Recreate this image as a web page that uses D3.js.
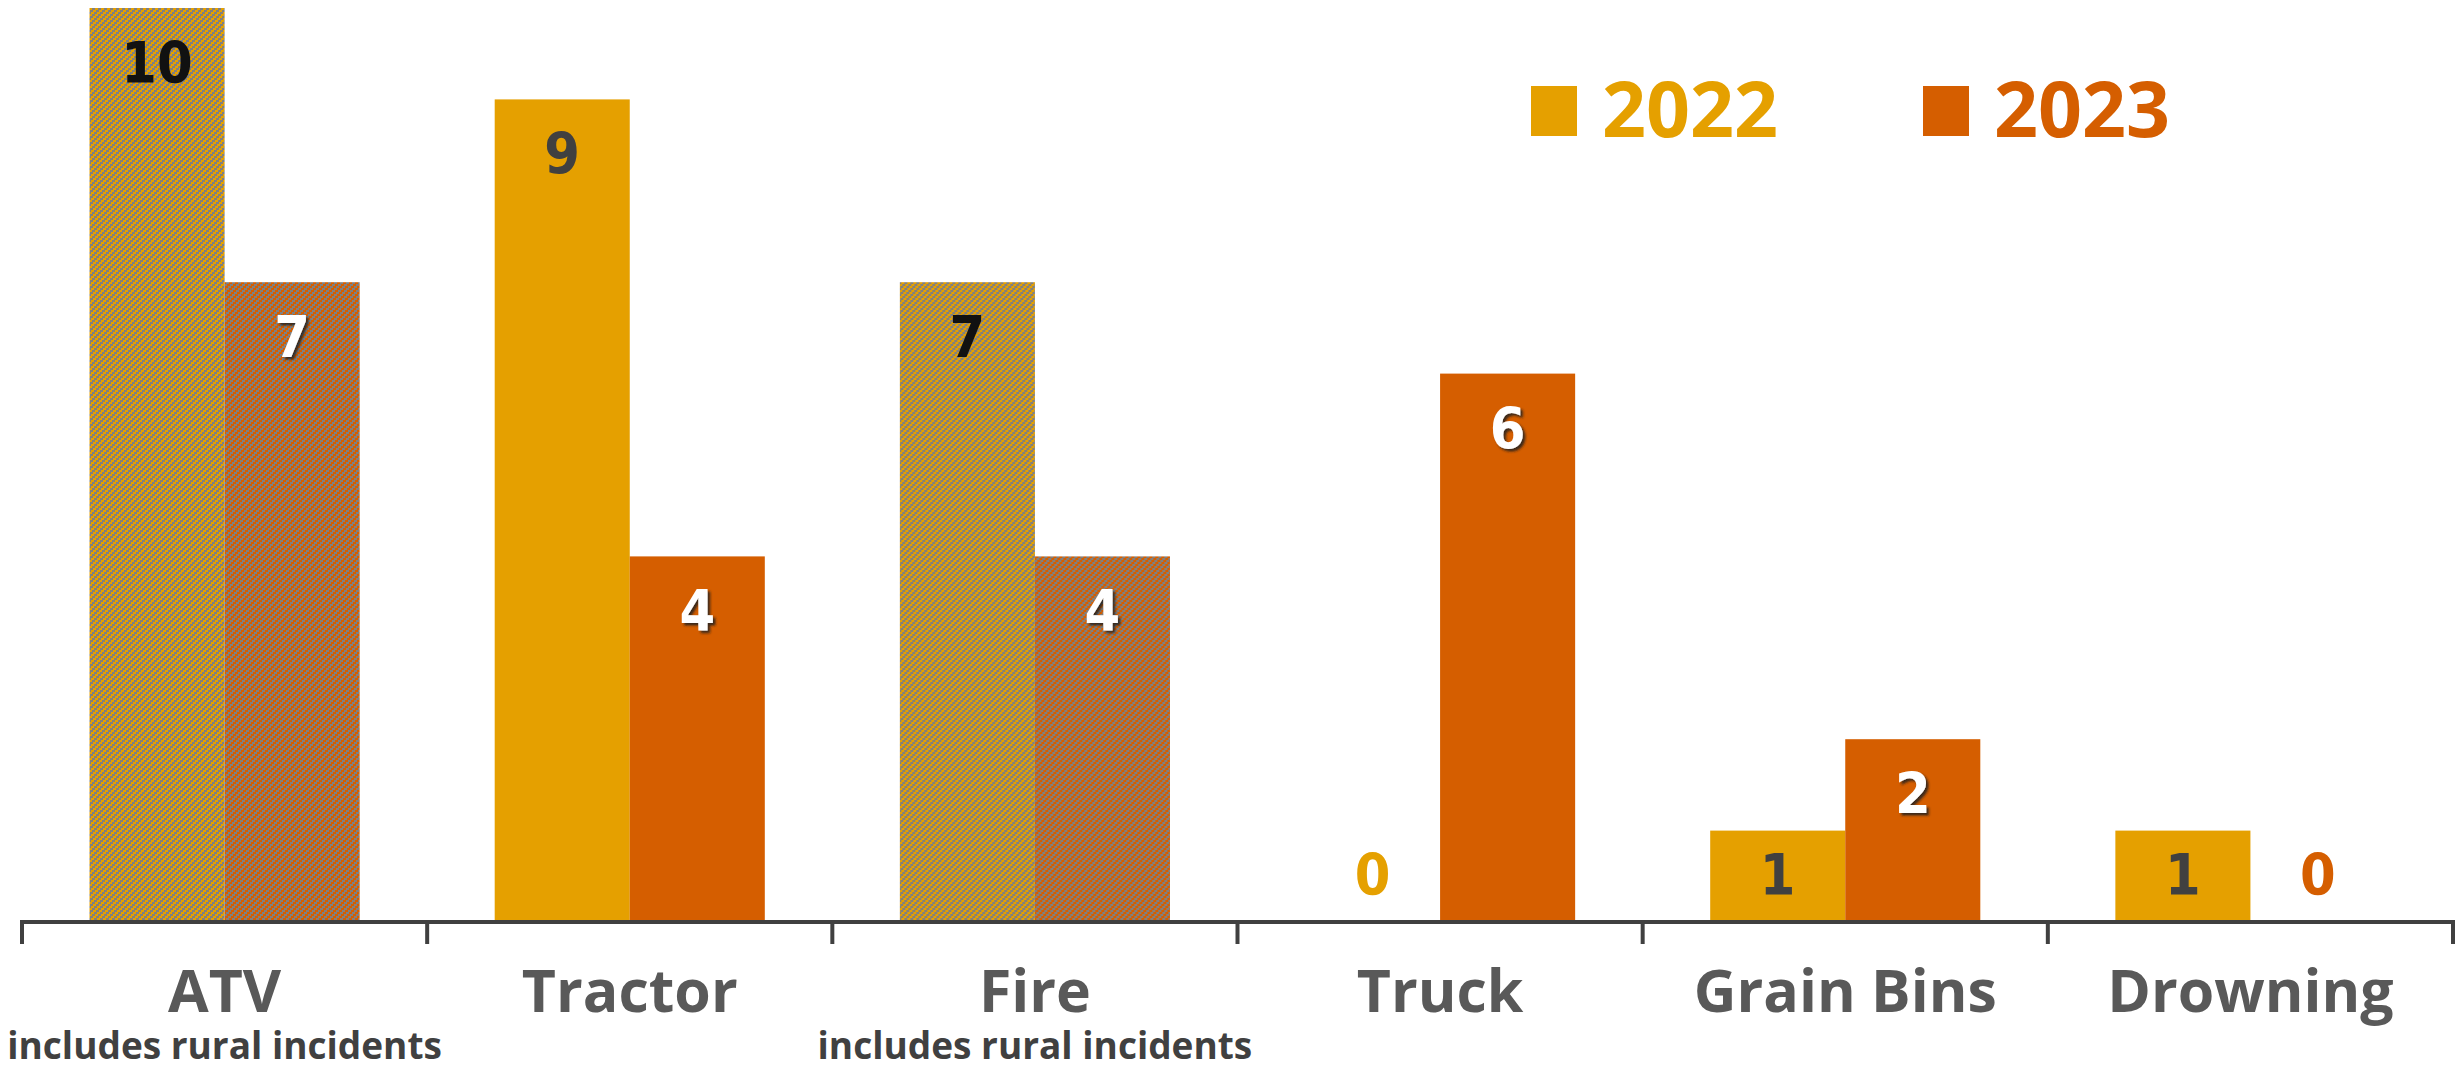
<!DOCTYPE html>
<html>
<head>
<meta charset="utf-8">
<script src="https://cdn.jsdelivr.net/npm/d3@7"></script>
<style>
  body { margin: 0; background: #fff; }
  svg { display: block; }
</style>
</head>
<body>
<svg width="2464" height="1070"></svg>
<script>
// data
var categories = ["ATV", "Tractor", "Fire", "Truck", "Grain Bins", "Drowning"];
var subtitles = ["includes rural incidents", "", "includes rural incidents", "", "", ""];
var years = ["2022", "2023"];
var values2022 = [10, 9, 7, 0, 1, 1];
var values2023 = [7, 4, 4, 6, 2, 0];
var hatched = [true, false, true, false, false, false];

var colors = { "2022": "#E5A000", "2023": "#D55E00" };

var svg = d3.select("svg");
var defs = svg.append("defs");

// stair-step diagonal hatching, one per year
years.forEach(function(yr) {
  var p = defs.append("pattern")
    .attr("id", "hatch" + yr)
    .attr("patternUnits", "userSpaceOnUse")
    .attr("width", 6)
    .attr("height", 6)
    .attr("shape-rendering", "crispEdges");
  p.append("rect").attr("width", 6).attr("height", 6).attr("fill", colors[yr]);
  [0, 1, 2].forEach(function(b) {
    var s = ((0 - 2 * b) % 6 + 6) % 6;
    [s, s - 6].forEach(function(xx) {
      p.append("rect")
        .attr("x", xx).attr("y", b * 2)
        .attr("width", 3).attr("height", 2)
        .attr("fill", "#808080");
    });
  });
});

var shadow = defs.append("filter").attr("id", "shadow")
  .attr("x", "-20%").attr("y", "-20%").attr("width", "150%").attr("height", "150%");
shadow.append("feDropShadow")
  .attr("dx", 2.5).attr("dy", 2.5).attr("stdDeviation", 1.2)
  .attr("flood-color", "#222").attr("flood-opacity", 0.85);

var x0 = d3.scaleBand().domain(categories).range([22, 2453]).padding(0);
var x1 = d3.scaleBand().domain(years).range([0, x0.bandwidth()]).paddingInner(0).paddingOuter(0.5);
var y = d3.scaleLinear().domain([0, 10]).range([922, 8]);

var rows = categories.map(function(c, i) {
  return {
    cat: c, i: i,
    bars: [
      { year: "2022", v: values2022[i], hatch: hatched[i], cat: c },
      { year: "2023", v: values2023[i], hatch: hatched[i], cat: c }
    ]
  };
});

var groups = svg.selectAll("g.cat")
  .data(rows)
  .enter()
  .append("g")
    .attr("class", "cat")
    .attr("transform", function(d) { return "translate(" + x0(d.cat) + ",0)"; });

groups.selectAll("rect")
  .data(function(d) { return d.bars; })
  .enter()
  .append("rect")
    .attr("x", function(d) { return x1(d.year); })
    .attr("y", function(d) { return y(d.v); })
    .attr("width", x1.bandwidth())
    .attr("height", function(d) { return y(0) - y(d.v); })
    .attr("fill", function(d) { return d.hatch ? "url(#hatch" + d.year + ")" : colors[d.year]; });

function labelColor(d) {
  if (d.v === 0) return colors[d.year];
  if (d.year === "2023") return "#fff";
  return d.hatch ? "#111" : "#404040";
}

groups.selectAll("text.val")
  .data(function(d) { return d.bars; })
  .enter()
  .append("text")
    .attr("class", "val")
    .attr("x", function(d) { return x1(d.year) + x1.bandwidth() / 2; })
    .attr("y", function(d) { return Math.min(y(d.v) + 75, y(0) - 27); })
    .attr("text-anchor", "middle")
    .style("font-family", "'DejaVu Sans Condensed', 'DejaVu Sans', sans-serif")
    .style("font-stretch", "condensed")
    .style("font-weight", "bold")
    .style("font-size", "57px")
    .style("fill", labelColor)
    .attr("filter", function(d) { return labelColor(d) === "#fff" ? "url(#shadow)" : null; })
    .text(function(d) { return d.v; });

// axis
var axis = svg.append("g").attr("transform", "translate(0,922)")
  .call(d3.axisBottom(x0).tickSize(0).tickFormat(""));
axis.select(".domain").remove();
axis.append("path")
  .attr("d", "M22,22V0H2453V22")
  .attr("fill", "none")
  .attr("stroke", "#404040")
  .attr("stroke-width", 4);
var tickPos = categories.slice(1).map(function(c) { return x0(c); });
axis.selectAll("line.sep")
  .data(tickPos)
  .enter()
  .append("line")
    .attr("class", "sep")
    .attr("x1", function(d) { return d; })
    .attr("x2", function(d) { return d; })
    .attr("y1", 0).attr("y2", 22)
    .attr("stroke", "#404040")
    .attr("stroke-width", 4);

svg.selectAll("text.cat")
  .data(categories)
  .enter()
  .append("text")
    .attr("class", "cat")
    .attr("x", function(d) { return x0(d) + x0.bandwidth() / 2; })
    .attr("y", 1012)
    .attr("text-anchor", "middle")
    .style("font-family", "'Open Sans', sans-serif")
    .style("font-weight", "bold")
    .style("font-size", "59px")
    .style("fill", "#595959")
    .text(function(d) { return d; });

svg.selectAll("text.sub")
  .data(subtitles)
  .enter()
  .append("text")
    .attr("class", "sub")
    .attr("x", function(d, i) { return x0(categories[i]) + x0.bandwidth() / 2; })
    .attr("y", 1059)
    .attr("text-anchor", "middle")
    .style("font-family", "'Open Sans', sans-serif")
    .style("font-weight", "bold")
    .style("font-size", "37px")
    .style("fill", "#404040")
    .text(function(d) { return d; });

// legend
var legX = [1531, 1923];
var legend = svg.selectAll("g.leg")
  .data(years)
  .enter()
  .append("g")
    .attr("class", "leg")
    .attr("transform", function(d, i) { return "translate(" + legX[i] + ",86)"; });
legend.append("rect")
  .attr("width", 46).attr("height", 50)
  .attr("fill", function(d) { return colors[d]; });
legend.append("text")
  .attr("x", 71).attr("y", 51)
  .style("font-family", "'Open Sans', sans-serif")
  .style("font-weight", "bold")
  .style("font-size", "77px")
  .style("fill", function(d) { return colors[d]; })
  .text(function(d) { return d; });
</script>
</body>
</html>
